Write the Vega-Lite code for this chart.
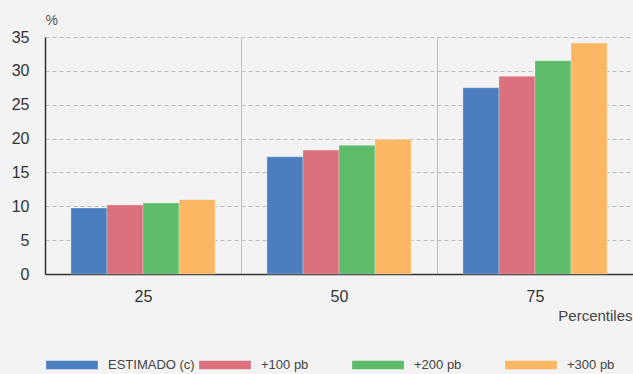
{
  "$schema": "https://vega.github.io/schema/vega-lite/v6.json",
  "width": 588,
  "height": 237,
  "autosize": "none",
  "padding": {"left": 45, "top": 37, "right": 0, "bottom": 100},
  "background": "#f2f3f2",
  "config": {"view": {"stroke": null}, "font": "Liberation Sans"},
  "data": {
    "values": [
      {"percentil": "25", "serie": "ESTIMADO (c)", "valor": 9.75},
      {"percentil": "25", "serie": "+100 pb", "valor": 10.2},
      {"percentil": "25", "serie": "+200 pb", "valor": 10.5},
      {"percentil": "25", "serie": "+300 pb", "valor": 10.98},
      {"percentil": "50", "serie": "ESTIMADO (c)", "valor": 17.3},
      {"percentil": "50", "serie": "+100 pb", "valor": 18.3},
      {"percentil": "50", "serie": "+200 pb", "valor": 19.0},
      {"percentil": "50", "serie": "+300 pb", "valor": 19.9},
      {"percentil": "75", "serie": "ESTIMADO (c)", "valor": 27.5},
      {"percentil": "75", "serie": "+100 pb", "valor": 29.2},
      {"percentil": "75", "serie": "+200 pb", "valor": 31.5},
      {"percentil": "75", "serie": "+300 pb", "valor": 34.1}
    ]
  },
  "mark": {"type": "bar", "stroke": "#ffffff", "strokeOpacity": 0.35, "strokeWidth": 0.8},
  "encoding": {
    "x": {
      "field": "percentil", "type": "nominal", "sort": ["25", "50", "75"],
      "scale": {"paddingInner": 0, "paddingOuter": 0},
      "axis": {
        "title": "Percentiles", "labelAngle": 0, "labelFontSize": 16, "labelColor": "#333",
        "labelPadding": 14, "ticks": false, "domainColor": "#333", "domainWidth": 1.5,
        "grid": true, "gridColor": "#bdbdbd", "gridDash": [], "tickBand": "extent",
        "titleX": 587, "titleY": 41, "titleAlign": "right", "titleBaseline": "middle",
        "titleFontSize": 15, "titleFontWeight": "normal", "titleColor": "#444"
      }
    },
    "xOffset": {
      "field": "serie", "type": "nominal",
      "sort": ["ESTIMADO (c)", "+100 pb", "+200 pb", "+300 pb"],
      "scale": {"paddingInner": 0, "paddingOuter": 0.72}
    },
    "y": {
      "field": "valor", "type": "quantitative",
      "scale": {"domain": [0, 35], "nice": false},
      "axis": {
        "title": "%", "titleAngle": 0, "titleX": 0, "titleY": -17, "titleAlign": "left",
        "titleBaseline": "middle", "titleFontSize": 14, "titleFontWeight": "normal", "titleColor": "#555",
        "values": [0, 5, 10, 15, 20, 25, 30, 35],
        "labelFontSize": 16, "labelColor": "#333", "labelPadding": 16, "ticks": false,
        "domainColor": "#333", "domainWidth": 1.5,
        "gridColor": "#bdbdbd", "gridDash": [4, 3]
      }
    },
    "color": {
      "field": "serie", "type": "nominal",
      "sort": ["ESTIMADO (c)", "+100 pb", "+200 pb", "+300 pb"],
      "scale": {"range": ["#4a7ebf", "#dc717e", "#5dbb6a", "#fcb764"]},
      "legend": {
        "title": null, "orient": "none", "direction": "horizontal",
        "legendX": 1, "legendY": 302, "gridAlign": "all",
        "symbolType": "M-1,-0.168H1V0.168H-1Z", "symbolSize": 2673, "symbolStrokeWidth": 0,
        "symbolOpacity": 1,
        "labelFontSize": 13, "labelColor": "#444", "labelOffset": 10, "columnPadding": 4
      }
    }
  }
}
